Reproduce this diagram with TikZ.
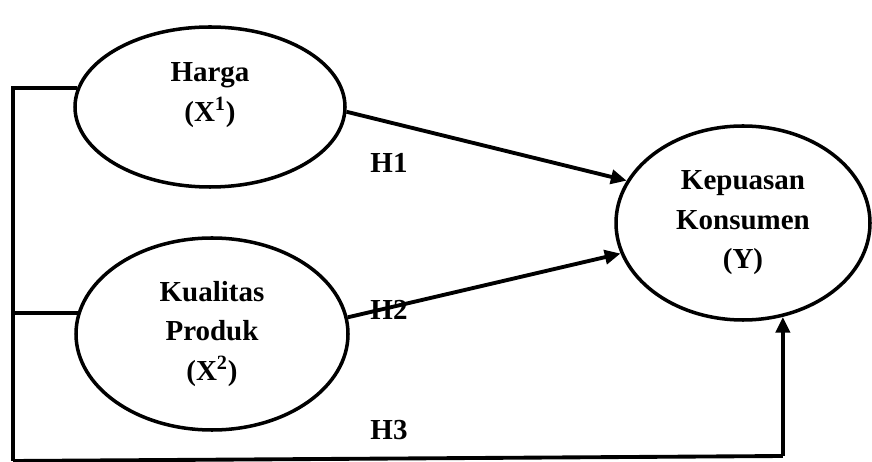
\documentclass[tikz,border=0pt]{standalone}
\usepackage{fontspec}
\setmainfont{Liberation Serif}
\usetikzlibrary{arrows.meta,shapes.geometric}

\begin{document}
\begin{tikzpicture}[x=0.02cm, y=-0.02cm,
	var/.style={draw, ellipse, line width=2pt, inner sep=0pt, align=center,
		font=\fontsize{16.5}{22.5}\selectfont\bfseries},
	line/.style={line width=2.2pt},
	arrow/.style={line width=2.2pt, -{Triangle[length=9pt, width=8pt]}},
	lbl/.style={font=\fontsize{16.5}{20}\selectfont\bfseries}]
	\useasboundingbox (0,0) rectangle (872,462);

	\node[var, minimum width=270*0.02cm, minimum height=160*0.02cm, text depth=17pt] (harga) at (210,107) {Harga\\(X\textsuperscript{1})};
	\node[var, minimum width=272*0.02cm, minimum height=192*0.02cm] (kualitas) at (212,334) {Kualitas\\Produk\\(X\textsuperscript{2})};
	\node[var, minimum width=254*0.02cm, minimum height=194*0.02cm] (kepuasan) at (743,223) {Kepuasan\\Konsumen\\(Y)};

	\coordinate (kiri) at (13,461);
	\coordinate (kanan) at (kepuasan.-67 |- 0,456);

	\draw[line] (harga.172) -| (kiri);
	\draw[line] (kualitas.171) -- (kualitas.171 -| kiri);
	\draw[line] (kiri) -- (kanan);
	\draw[arrow] (kanan) -- (kepuasan.-67);

	\draw[arrow] (harga.-2) -- (kepuasan.160);
	\draw[arrow] (kualitas.7) -- (kepuasan.194);

	\node[lbl] (h1) at (389,163) {H1};
	\node[lbl] (h2) at (389,310) {H2};
	\node[lbl] (h3) at (389,430) {H3};
\end{tikzpicture}
\end{document}
